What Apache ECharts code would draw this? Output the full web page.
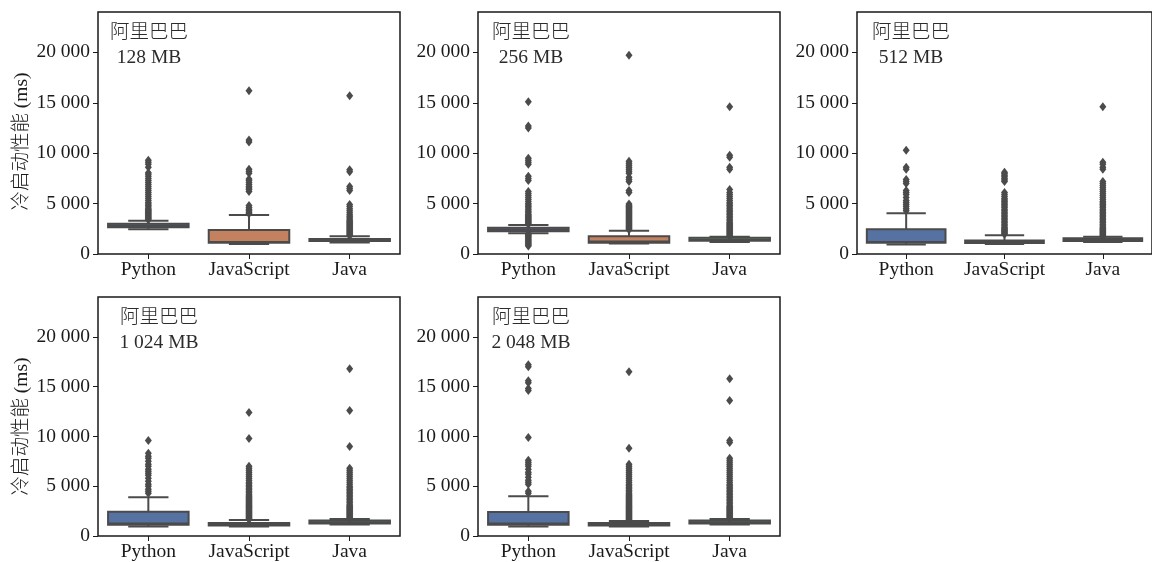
<!DOCTYPE html>
<html>
<head>
<meta charset="utf-8">
<script src="https://cdn.jsdelivr.net/npm/echarts@6/dist/echarts.min.js"></script>
<style>
  html, body { margin: 0; padding: 0; background: #fff; }
  #chart { width: 1152px; height: 562px; }
</style>
</head>
<body>
<div id="chart"></div>
<script>
// 冷启动性能 box plots, 阿里巴巴, one panel per memory size
const memories = ['128 MB', '256 MB', '512 MB', '1 024 MB', '2 048 MB'];
const languages = ['Python', 'JavaScript', 'Java'];
const yTicks = [0, 5000, 10000, 15000, 20000];

// box stats per panel: [low whisker, q1, median, q3, high whisker] for Python, JavaScript, Java
const box128 = [[2450, 2650, 2800, 3000, 3300], [1000, 1120, 1200, 2380, 3860], [1150, 1300, 1380, 1500, 1750]];
const box256 = [[2050, 2250, 2400, 2600, 2870], [1050, 1120, 1250, 1750, 2300], [1200, 1320, 1400, 1600, 1700]];
const box512 = [[950, 1120, 1200, 2450, 4050], [1000, 1080, 1180, 1340, 1850], [1200, 1300, 1400, 1550, 1700]];
const box1024 = [[950, 1120, 1250, 2430, 3900], [950, 1050, 1150, 1300, 1600], [1150, 1250, 1380, 1550, 1700]];
const box2048 = [[950, 1120, 1250, 2420, 4000], [950, 1050, 1150, 1300, 1500], [1150, 1250, 1380, 1550, 1700]];

// outliers per panel (Python, JavaScript, Java)
const out128 = [
  [3400, 3500, 3600, 3700, 3800, 3900, 4000, 4100, 4200, 4300, 4400, 4500, 4650, 4800, 4950, 5100, 5300, 5500, 5700, 5900, 6100, 6300, 6500, 6700, 6900, 7100, 7300, 7500, 7700, 7900, 8050, 8600, 8900, 9100, 9300],
  [4000, 4150, 4300, 4450, 4600, 4800, 6200, 6400, 6550, 6700, 6900, 7100, 7300, 7450, 8000, 8200, 8400, 11100, 11300, 16200],
  [1800, 1900, 2000, 2100, 2200, 2300, 2400, 2500, 2600, 2700, 2800, 2900, 3000, 3100, 3200, 3300, 3450, 3600, 3750, 3900, 4100, 4300, 4500, 4700, 4900, 6300, 6500, 6700, 8150, 8350, 15700]
];
const out256 = [
  [800, 900, 1000, 1100, 1200, 1300, 1400, 1500, 1600, 1700, 1800, 1900, 2000, 2950, 3050, 3150, 3250, 3350, 3450, 3550, 3650, 3750, 3850, 3950, 4100, 4250, 4400, 4550, 4700, 4850, 5000, 5200, 5400, 5600, 5800, 6000, 6200, 7300, 7500, 7700, 8900, 9100, 9300, 9500, 12500, 12700, 15100],
  [2400, 2500, 2600, 2700, 2800, 2900, 3000, 3100, 3200, 3300, 3400, 3500, 3600, 3700, 3800, 3900, 4000, 4100, 4200, 4300, 4400, 4500, 4600, 4700, 4800, 4950, 6100, 6300, 7200, 7400, 7600, 8000, 8200, 8400, 8600, 8800, 9000, 9200, 19700],
  [1750, 1850, 1950, 2050, 2150, 2250, 2350, 2450, 2550, 2650, 2750, 2850, 2950, 3050, 3150, 3300, 3450, 3600, 3750, 3900, 4050, 4200, 4350, 4500, 4650, 4800, 4950, 5100, 5300, 5500, 5700, 5900, 6100, 6400, 8400, 8600, 9600, 9800, 14600]
];
const out512 = [
  [4300, 4500, 4700, 4900, 5100, 5300, 5600, 5900, 6100, 6300, 7000, 7200, 7400, 8400, 8600, 10300],
  [1950, 2050, 2150, 2250, 2350, 2450, 2550, 2650, 2800, 2950, 3100, 3250, 3400, 3550, 3700, 3850, 4000, 4150, 4300, 4450, 4600, 4750, 4900, 5050, 5200, 5350, 5500, 5700, 5900, 6100, 7200, 7350, 7500, 7650, 7800, 7950, 8100],
  [1750, 1850, 1950, 2050, 2150, 2250, 2350, 2450, 2550, 2650, 2800, 2950, 3100, 3250, 3400, 3550, 3700, 3850, 4000, 4150, 4300, 4450, 4600, 4750, 4900, 5050, 5200, 5400, 5600, 5800, 6000, 6200, 6400, 6600, 6800, 7000, 7200, 8400, 8600, 8900, 9100, 14600]
];
const out1024 = [
  [4300, 4500, 4700, 5000, 5200, 5500, 5800, 6100, 6300, 6500, 6700, 7000, 7200, 7500, 7800, 8000, 8300, 9600],
  [1650, 1750, 1850, 1950, 2050, 2150, 2250, 2350, 2450, 2550, 2650, 2750, 2850, 2950, 3050, 3150, 3250, 3350, 3450, 3550, 3650, 3750, 3850, 3950, 4050, 4200, 4350, 4500, 4650, 4800, 4950, 5100, 5250, 5400, 5600, 5800, 6000, 6200, 6400, 6600, 6800, 7000, 9800, 12400],
  [1750, 1850, 1950, 2050, 2150, 2250, 2350, 2450, 2550, 2650, 2750, 2850, 2950, 3050, 3200, 3350, 3500, 3650, 3800, 3950, 4100, 4250, 4400, 4550, 4700, 4850, 5000, 5200, 5400, 5600, 5800, 6000, 6200, 6400, 6600, 6800, 9000, 12600, 16800]
];
const out2048 = [
  [4300, 4500, 5200, 5400, 5600, 5900, 6200, 6400, 6700, 7000, 7200, 7400, 7600, 9900, 14600, 14800, 15400, 15600, 17000, 17200],
  [1550, 1650, 1750, 1850, 1950, 2050, 2150, 2250, 2350, 2450, 2550, 2650, 2750, 2850, 2950, 3050, 3150, 3250, 3350, 3450, 3550, 3650, 3750, 3850, 3950, 4050, 4150, 4300, 4450, 4600, 4750, 4900, 5050, 5200, 5400, 5600, 5800, 6000, 6200, 6400, 6600, 6800, 7000, 7200, 8800, 16500],
  [1750, 1850, 1950, 2050, 2150, 2250, 2350, 2450, 2550, 2650, 2750, 2850, 2950, 3100, 3250, 3400, 3550, 3700, 3850, 4000, 4150, 4300, 4450, 4600, 4750, 4900, 5050, 5200, 5400, 5600, 5800, 6000, 6200, 6400, 6600, 6800, 7000, 7200, 7400, 7600, 7800, 9400, 9600, 13600, 15800]
];

const boxes = [box128, box256, box512, box1024, box2048];
const outliers = [out128, out256, out512, out1024, out2048];

// layout: grid rects and text block centre x of each panel
const gridLefts = [98, 478, 857, 98, 478];
const gridTops = [12, 12, 12, 297, 297];
const labelCenters = [149, 531, 911, 159, 531];

const boxColors = ['#5572A3', '#C4815F', '#5F9E6E'];
const EDGE = '#4b4b4b';
const SERIF = '"Liberation Serif", "Times New Roman", serif';
const MIXED = '"Liberation Serif", "Noto Sans CJK SC", serif';

function fmt(v) {
  return String(v).replace(/\B(?=(\d{3})+(?!\d))/g, ' ');
}

function renderBox(params, api) {
  const i = api.value(0);
  const pLow = api.coord([i, api.value(1)]);
  const pQ1 = api.coord([i, api.value(2)]);
  const pMed = api.coord([i, api.value(3)]);
  const pQ3 = api.coord([i, api.value(4)]);
  const pHigh = api.coord([i, api.value(5)]);
  const band = api.size([1, 0])[0];
  const cx = pQ1[0];
  const hb = band * 0.4, hc = band * 0.2;
  const line = (x1, y1, x2, y2) => ({
    type: 'line', shape: { x1, y1, x2, y2 }, style: { stroke: EDGE, lineWidth: 2 }
  });
  return {
    type: 'group',
    children: [
      line(cx, pQ3[1], cx, pHigh[1]),
      line(cx, pQ1[1], cx, pLow[1]),
      line(cx - hc, pHigh[1], cx + hc, pHigh[1]),
      line(cx - hc, pLow[1], cx + hc, pLow[1]),
      {
        type: 'rect',
        shape: { x: cx - hb, y: pQ3[1], width: hb * 2, height: pQ1[1] - pQ3[1] },
        style: { fill: boxColors[i], stroke: EDGE, lineWidth: 2 }
      },
      line(cx - hb, pMed[1], cx + hb, pMed[1])
    ]
  };
}

var grids = [], xAxes = [], yAxes = [], series = [], graphics = [];
for (let p = 0; p < memories.length; p++) {
  grids.push({
    left: gridLefts[p], top: gridTops[p], width: 302, height: 242,
    show: true, borderColor: '#1a1a1a', borderWidth: 1.5, backgroundColor: 'transparent'
  });
  xAxes.push({
    type: 'category', gridIndex: p, data: languages,
    axisLine: { show: false },
    axisTick: { show: true, alignWithLabel: true, length: 5, lineStyle: { color: '#1a1a1a', width: 1 } },
    axisLabel: { interval: 0, color: '#1a1a1a', fontFamily: SERIF, fontSize: 19.5, margin: 6 },
    splitLine: { show: false }
  });
  yAxes.push({
    type: 'value', gridIndex: p, min: 0, max: 24000, interval: 5000,
    axisLine: { show: false },
    axisTick: { show: true, length: 5, customValues: yTicks, lineStyle: { color: '#1a1a1a', width: 1 } },
    axisLabel: { color: '#1a1a1a', fontFamily: SERIF, fontSize: 19.5, margin: 8, customValues: yTicks, formatter: fmt },
    splitLine: { show: false }
  });
  const boxData = boxes[p].map((b, i) => [i].concat(b));
  series.push({
    type: 'custom', xAxisIndex: p, yAxisIndex: p, renderItem: renderBox,
    encode: { x: 0, y: [1, 2, 3, 4, 5] }, data: boxData, z: 2
  });
  const pts = [];
  outliers[p].forEach((vals, i) => vals.forEach(v => pts.push([i, v])));
  series.push({
    type: 'scatter', xAxisIndex: p, yAxisIndex: p, data: pts,
    symbol: 'diamond', symbolSize: [7, 9],
    itemStyle: { color: EDGE, opacity: 1 }, z: 3
  });
  graphics.push({
    type: 'text', x: labelCenters[p], y: gridTops[p] + 8,
    style: {
      text: '阿里巴巴\n' + memories[p], textAlign: 'center', textVerticalAlign: 'top',
      fill: '#2b2b2b', font: '300 19.5px ' + MIXED, lineHeight: 25
    }
  });
}

// y-axis titles on the left column
[12, 297].forEach(top => {
  graphics.push({
    type: 'text', x: 22, y: top + 129.5, rotation: Math.PI / 2,
    style: {
      text: '冷启动性能 (ms)', textAlign: 'center', textVerticalAlign: 'middle',
      fill: '#1a1a1a', font: '300 19.5px ' + MIXED
    }
  });
});

var chart = echarts.init(document.getElementById('chart'), null, { renderer: 'canvas' });
chart.setOption({
  animation: false,
  backgroundColor: '#fff',
  grid: grids,
  xAxis: xAxes,
  yAxis: yAxes,
  series: series,
  graphic: graphics
});
</script>
</body>
</html>
